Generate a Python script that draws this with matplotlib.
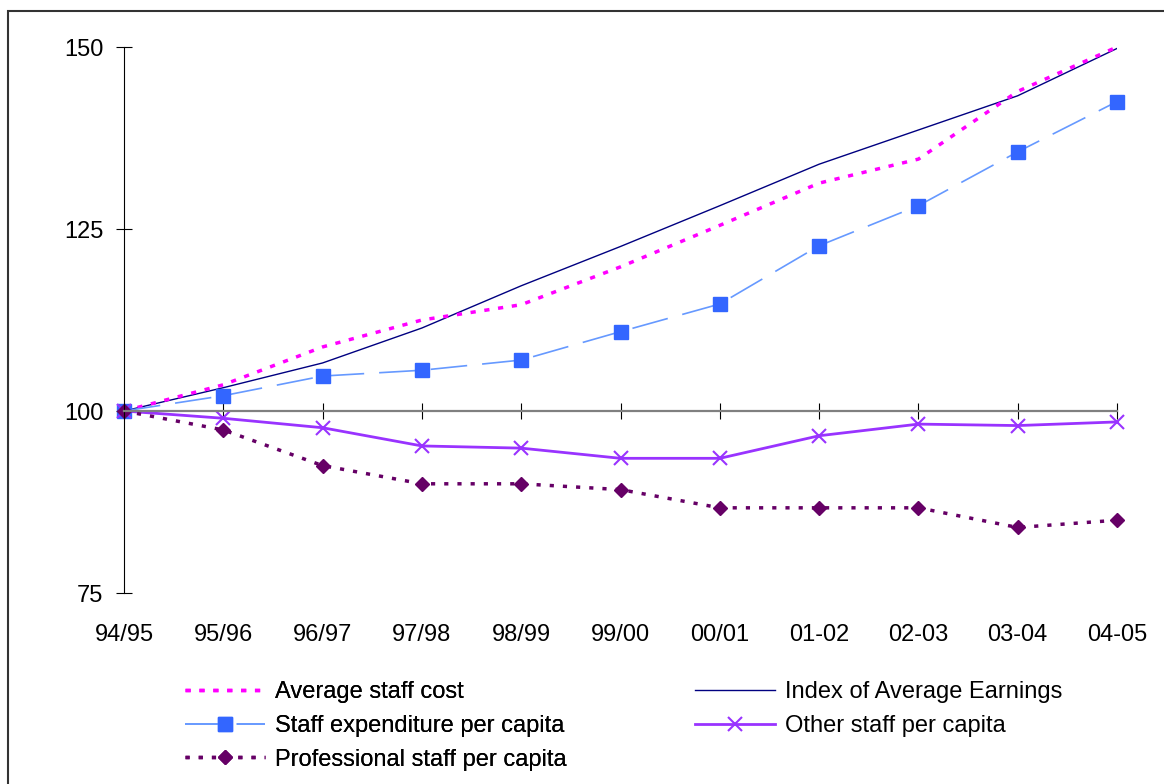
import matplotlib
matplotlib.use('Agg')
import matplotlib.pyplot as plt
from matplotlib.patches import Rectangle

years = ['94/95', '95/96', '96/97', '97/98', '98/99', '99/00',
         '00/01', '01-02', '02-03', '03-04', '04-05']

avg_staff_cost = [100, 103.6, 108.8, 112.5, 114.6, 119.8, 125.5, 131.3, 134.6, 143.9, 150.0]
index_avg_earnings = [100, 103.2, 106.6, 111.4, 117.2, 122.6, 128.2, 133.9, 138.6, 143.3, 149.8]
staff_exp_per_capita = [100, 102.1, 104.8, 105.6, 107.0, 110.9, 114.7, 122.7, 128.2, 135.6, 142.5]
other_staff_per_capita = [100, 99.0, 97.7, 95.2, 94.9, 93.5, 93.5, 96.6, 98.2, 98.0, 98.5]
prof_staff_per_capita = [100, 97.4, 92.5, 90.0, 90.0, 89.2, 86.7, 86.7, 86.7, 84.0, 85.0]

plt.rcParams['font.family'] = ['Liberation Sans', 'DejaVu Sans']
FS = 17

fig = plt.figure(figsize=(11.64, 7.84), dpi=100)
ax = fig.add_axes([124 / 1164, 1 - 593 / 784, (1117 - 124) / 1164, (593 - 47) / 784])

x = list(range(len(years)))

l_idx, = ax.plot(x, index_avg_earnings, color='#000080', lw=1.0,
                 label='Index of Average Earnings')
l_avg, = ax.plot(x, avg_staff_cost, color='#FF00FF', lw=2.5,
                 linestyle=(0, (1.5, 2.5)), label='Average staff cost')
l_exp, = ax.plot(x, staff_exp_per_capita, color='#6699FF', lw=1.2,
                 linestyle=(0, (22, 9)), marker='s', markersize=9.8,
                 markerfacecolor='#3366FF', markeredgecolor='#3366FF',
                 label='Staff expenditure per capita', clip_on=False)
l_oth, = ax.plot(x, other_staff_per_capita, color='#9933FF', lw=2.0,
                 marker='x', markersize=10, markeredgewidth=1.5,
                 label='Other staff per capita', clip_on=False)
l_pro, = ax.plot(x, prof_staff_per_capita, color='#660066', lw=2.5,
                 linestyle=(0, (1.2, 2.6)), marker='D', markersize=7,
                 markerfacecolor='#660066', markeredgecolor='#660066',
                 label='Professional staff per capita', clip_on=False)

ax.set_xlim(0, 10)
ax.set_ylim(75, 150)
ax.set_yticks([75, 100, 125, 150])
ax.tick_params(axis='y', direction='inout', length=11.5, width=0.8,
               labelsize=FS, pad=9)

# category axis crosses at 100
ax.spines['top'].set_visible(False)
ax.spines['right'].set_visible(False)
ax.spines['bottom'].set_position(('data', 100))
ax.spines['bottom'].set_color('#808080')
ax.spines['bottom'].set_linewidth(1.6)
ax.spines['left'].set_linewidth(0.8)
ax.set_xticks(x)
ax.tick_params(axis='x', direction='inout', length=11.5, width=0.8,
               labelbottom=False)

sec = ax.secondary_xaxis('bottom')
sec.spines['bottom'].set_visible(False)
sec.set_xticks(x, years)
sec.tick_params(length=0, pad=22, labelsize=FS)

# legend in two blocks
leg_kw = dict(loc='upper left', frameon=False, fontsize=FS, handlelength=3.4,
              handletextpad=0.42, labelspacing=0.5, borderpad=0,
              borderaxespad=0)
leg1 = fig.legend([l_avg, l_exp, l_pro],
                  [l_avg.get_label(), l_exp.get_label(), l_pro.get_label()],
                  bbox_to_anchor=(185 / 1164, 1 - 681 / 784), **leg_kw)
fig.add_artist(leg1)
fig.legend([l_idx, l_oth], [l_idx.get_label(), l_oth.get_label()],
           bbox_to_anchor=(695 / 1164, 1 - 681 / 784), **leg_kw)

# outer frame of the chart area
fig.add_artist(Rectangle((8 / 1164, -0.2), 1.2, 1.2 - 11 / 784,
                         transform=fig.transFigure, fill=False,
                         edgecolor='#333333', lw=1.5))

fig.savefig('out.png', dpi=100)
